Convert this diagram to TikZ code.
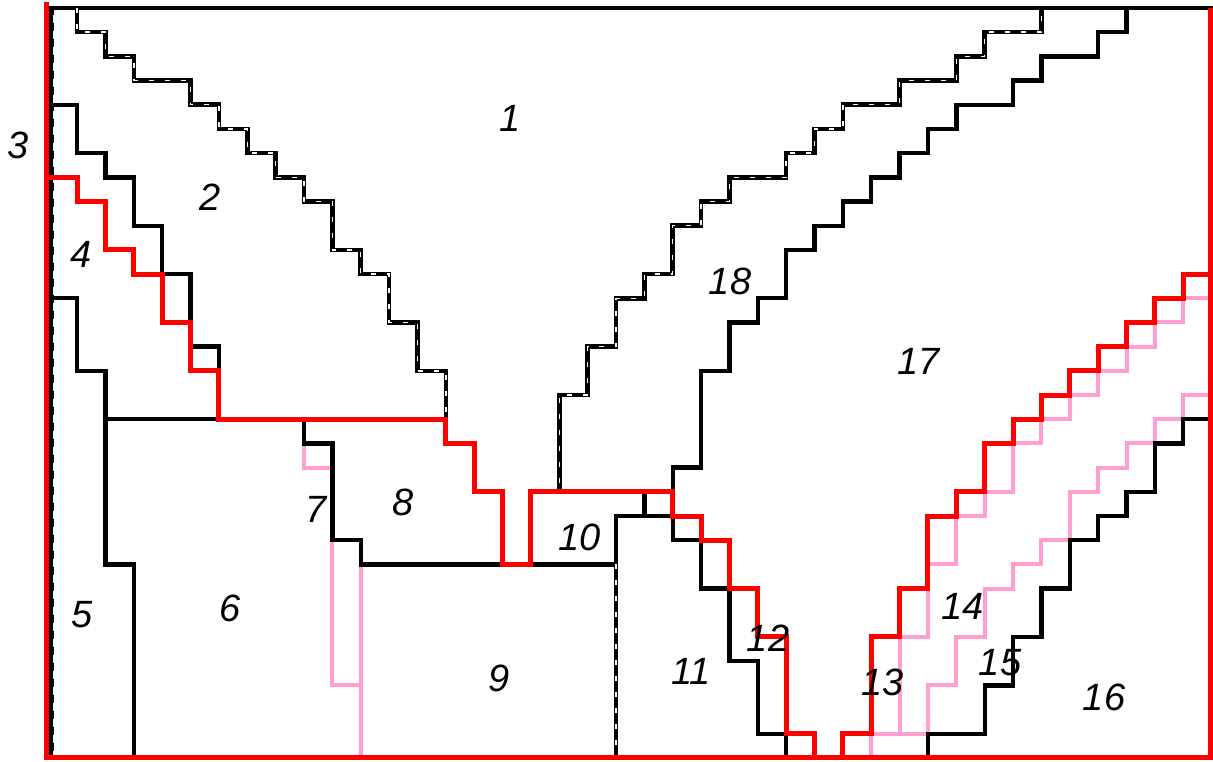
\documentclass[tikz,border=0pt]{standalone}
\usepackage{fontspec}
\setmainfont{Liberation Sans}
\definecolor{pinkc}{RGB}{255,158,208}
\begin{document}
\begin{tikzpicture}[x={(14.18pt,0)},y={(0,-12.095pt)},
  blk/.style={draw=black,line width=2.2pt,line cap=rect,line join=miter},
  redl/.style={draw=red,line width=2.5pt,line cap=rect,line join=miter},
  pinkl/.style={draw=pinkc,line width=2pt,line cap=rect,line join=miter},
  dashb/.style={draw=black,line width=2.3pt,line cap=rect,line join=miter,
     postaction={draw=white,line width=0.7pt,line cap=butt,dash pattern=on 2.5pt off 5.5pt}},
  lab/.style={font=\fontsize{19}{19}\selectfont\itshape,inner sep=0pt}]
\useasboundingbox (-1.721,-0.331) rectangle (41.05,31.13);

% pink lines
\draw[pinkl] (9,18) -- (9,19) -- (10,19);
\draw[pinkl] (10,22) -- (10,28) -- (11,28);
\draw[pinkl] (11,23) -- (11,31);
\draw[pinkl] (41,12) -- (40,12) -- (40,13) -- (39,13) -- (39,14) -- (38,14) -- (38,15) -- (37,15) -- (37,16) -- (36,16) -- (36,17) -- (35,17) -- (35,18) -- (34,18) -- (34,20) -- (33,20) -- (33,21) -- (32,21) -- (32,23) -- (31,23) -- (31,26) -- (30,26) -- (30,30);
\draw[pinkl] (41,16) -- (40,16) -- (40,17) -- (39,17) -- (39,18) -- (38,18) -- (38,19) -- (37,19) -- (37,20) -- (36,20) -- (36,22) -- (35,22) -- (35,23) -- (34,23) -- (34,24) -- (33,24) -- (33,26) -- (32,26) -- (32,28) -- (31,28) -- (31,30);
\draw[pinkl] (29,31) -- (29,30) -- (31,30);

% frame
\draw[blk] (-0.1,0) -- (41,0);
\draw[draw=black,line width=2.2pt] (0.1,0) -- (0.1,31);
\draw[draw=white,line width=0.55pt,dash pattern=on 4pt off 4pt] (0.16,0.3) -- (0.16,31);

% black lines
\draw[blk] (0.1,4) -- (1,4) -- (1,6) -- (2,6) -- (2,7) -- (3,7) -- (3,9) -- (4,9) -- (4,11) -- (5,11) -- (5,14) -- (6,14) -- (6,15);
\draw[blk] (0.1,12) -- (1,12) -- (1,15) -- (2,15) -- (2,23) -- (3,23) -- (3,31);
\draw[blk] (2,17) -- (6,17);
\draw[blk] (9,17) -- (9,18) -- (10,18) -- (10,22) -- (11,22) -- (11,23) -- (20,23);
\draw[blk] (20,21) -- (22,21) -- (22,22) -- (23,22) -- (23,24) -- (24,24) -- (24,27) -- (25,27) -- (25,30) -- (26,30) -- (26,31);
\draw[blk] (21,20) -- (21,21);
\draw[blk] (20,21) -- (20,23);
\draw[dashb] (20,23) -- (20,31);
\draw[blk] (22,20) -- (22,19) -- (23,19) -- (23,15) -- (24,15) -- (24,13) -- (25,13) -- (25,12) -- (26,12) -- (26,10) -- (27,10) -- (27,9) -- (28,9) -- (28,8) -- (29,8) -- (29,7) -- (30,7) -- (30,6) -- (31,6) -- (31,5) -- (32,5) -- (32,4) -- (34,4) -- (34,3) -- (35,3) -- (35,2) -- (37,2) -- (37,1) -- (38,1) -- (38,0);
\draw[blk] (41,17) -- (40,17) -- (40,18) -- (39,18) -- (39,20) -- (38,20) -- (38,21) -- (37,21) -- (37,22) -- (36,22) -- (36,24) -- (35,24) -- (35,26) -- (34,26) -- (34,28) -- (33,28) -- (33,30) -- (31,30) -- (31,31);

% dashed V staircase
\draw[dashb] (1,0) -- (1,1) -- (2,1) -- (2,2) -- (3,2) -- (3,3) -- (5,3) -- (5,4) -- (6,4) -- (6,5) -- (7,5) -- (7,6) -- (8,6) -- (8,7) -- (9,7) -- (9,8) -- (10,8) -- (10,10) -- (11,10) -- (11,11) -- (12,11) -- (12,13) -- (13,13) -- (13,15) -- (14,15) -- (14,18) -- (15,18) -- (15,20) -- (16,20) -- (16,23) -- (17,23) -- (17,20) -- (18,20) -- (18,16) -- (19,16) -- (19,14) -- (20,14) -- (20,12) -- (21,12) -- (21,11) -- (22,11) -- (22,9) -- (23,9) -- (23,8) -- (24,8) -- (24,7) -- (26,7) -- (26,6) -- (27,6) -- (27,5) -- (28,5) -- (28,4) -- (30,4) -- (30,3) -- (32,3) -- (32,2) -- (33,2) -- (33,1) -- (35,1) -- (35,0);

% red lines
\draw[redl] (-0.08,-0.15) -- (-0.08,31) -- (40.97,31) -- (40.97,0.1);
\draw[redl] (-0.08,7) -- (1,7) -- (1,8) -- (2,8) -- (2,10) -- (3,10) -- (3,11) -- (4,11) -- (4,13) -- (5,13) -- (5,15) -- (6,15) -- (6,17) -- (14,17) -- (14,18) -- (15,18) -- (15,20) -- (16,20) -- (16,23) -- (17,23) -- (17,20) -- (22,20) -- (22,21) -- (23,21) -- (23,22) -- (24,22) -- (24,24) -- (25,24) -- (25,26) -- (26,26) -- (26,30) -- (27,30) -- (27,31);
\draw[redl] (28,31) -- (28,30) -- (29,30) -- (29,26) -- (30,26) -- (30,24) -- (31,24) -- (31,21) -- (32,21) -- (32,20) -- (33,20) -- (33,18) -- (34,18) -- (34,17) -- (35,17) -- (35,16) -- (36,16) -- (36,15) -- (37,15) -- (37,14) -- (38,14) -- (38,13) -- (39,13) -- (39,12) -- (40,12) -- (40,11) -- (40.97,11);

% labels
\node[lab] (l1) at (16.26,4.55) {1};
\node[lab] (l2) at (5.68,7.81) {2};
\node[lab] (l3) at (-1.09,5.66) {3};
\node[lab] (l4) at (1.14,10.17) {4};
\node[lab] (l5) at (1.17,25.09) {5};
\node[lab] (l6) at (6.39,24.80) {6};
\node[lab] (l7) at (9.42,20.71) {7};
\node[lab] (l8) at (12.49,20.42) {8};
\node[lab] (l9) at (15.87,27.70) {9};
\node[lab] (l10) at (18.73,21.87) {10};
\node[lab] (l11) at (22.64,27.41) {11};
\node[lab] (l12) at (25.36,26.04) {12};
\node[lab] (l13) at (29.41,27.86) {13};
\node[lab] (l14) at (32.23,24.72) {14};
\node[lab] (l15) at (33.54,27.04) {15};
\node[lab] (l16) at (37.21,28.48) {16};
\node[lab] (l17) at (30.68,14.63) {17};
\node[lab] (l18) at (24.02,11.29) {18};
\end{tikzpicture}
\end{document}
